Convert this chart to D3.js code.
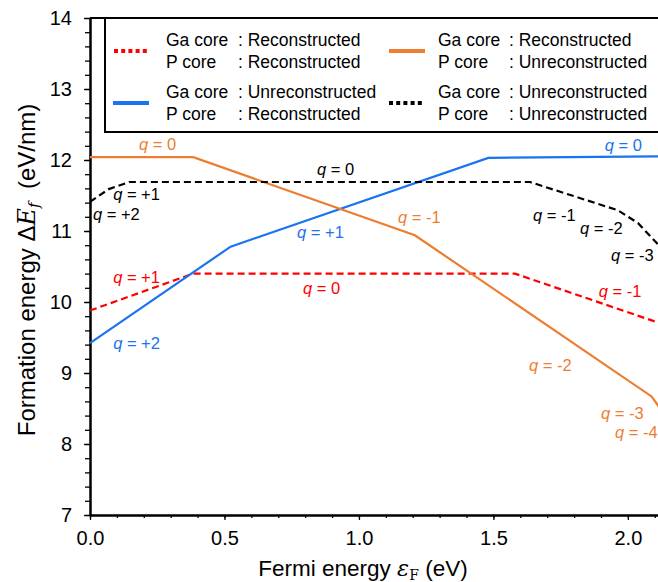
<!DOCTYPE html>
<html>
<head>
<meta charset="utf-8">
<script src="https://cdn.jsdelivr.net/npm/d3@7"></script>
<style>
  html, body { margin: 0; padding: 0; background: #fff; }
  svg { display: block; font-family: "Liberation Sans", Arial, sans-serif; }
</style>
</head>
<body>
<svg id="chart" width="658" height="582"></svg>
<script>
// Formation energy vs Fermi energy for the four core configurations
// each series: [Fermi energy (eV), formation energy (eV/nm)] at the transition points
const gaRecPRec     = [[0, 9.88], [0.384, 10.40], [1.580, 10.40], [2.12, 9.70]];
const gaUnrecPRec   = [[0, 9.42], [0.523, 10.78], [1.481, 12.03], [2.12, 12.05]];
const gaRecPUnrec   = [[0, 12.04], [0.384, 12.04], [1.208, 10.94], [2.088, 8.67], [2.12, 8.50]];
const gaUnrecPUnrec = [[0, 11.41], [0.07, 11.59], [0.146, 11.69], [1.636, 11.69], [1.964, 11.29], [2.038, 11.11], [2.12, 10.78]];

const seriesColors = ["#ff0000", "#1a73f0", "#ed7d31", "#000000"];
const seriesDashed = [true, false, false, true];

const legendRows = [
  ["Ga core", ": Reconstructed", "P core", ": Reconstructed"],
  ["Ga core", ": Unreconstructed", "P core", ": Reconstructed"],
  ["Ga core", ": Reconstructed", "P core", ": Unreconstructed"],
  ["Ga core", ": Unreconstructed", "P core", ": Unreconstructed"]
];

// charge-state labels: [series index, charge text, Fermi energy, formation energy]
const chargeLabels = [
  [2, "0", 0.182, 12.14],
  [3, "0", 0.844, 11.79],
  [3, "+1", 0.086, 11.44],
  [3, "+2", 0.011, 11.16],
  [1, "+1", 0.770, 10.90],
  [0, "+1", 0.086, 10.27],
  [0, "0", 0.792, 10.11],
  [1, "+2", 0.086, 9.34],
  [1, "0", 1.914, 12.13],
  [2, "-1", 1.145, 11.11],
  [3, "-1", 1.647, 11.14],
  [3, "-2", 1.822, 10.96],
  [3, "-3", 1.937, 10.58],
  [0, "-1", 1.892, 10.07],
  [2, "-2", 1.632, 9.03],
  [2, "-3", 1.900, 8.35],
  [2, "-4", 1.952, 8.08]
];

const xMajor = [0, 0.5, 1.0, 1.5, 2.0];
const xMinor = d3.range(0, 21.5, 1).map(v => v / 10);
const yMajor = [7, 8, 9, 10, 11, 12, 13, 14];
const yMinor = d3.range(35, 70.5, 1).map(v => v / 5);

const svg = d3.select("#chart");
const x = d3.scaleLinear().domain([0, 2.112]).range([90, 658]);
const y = d3.scaleLinear().domain([7, 14]).range([515, 18]);

// axes
const axisFont = "20px";
const gx = svg.append("g").attr("transform", `translate(0,${y(7)})`);
gx.call(d3.axisBottom(x).tickValues(xMinor).tickSize(3).tickSizeOuter(0).tickFormat(""));
const gx2 = svg.append("g").attr("transform", `translate(0,${y(7)})`);
gx2.call(d3.axisBottom(x).tickValues(xMajor).tickSize(5).tickSizeOuter(0).tickPadding(11).tickFormat(d3.format(".1f")));

const gy = svg.append("g").attr("transform", `translate(${x(0)},0)`);
gy.call(d3.axisLeft(y).tickValues(yMinor).tickSize(5).tickSizeOuter(0).tickFormat(""));
const gy2 = svg.append("g").attr("transform", `translate(${x(0)},0)`);
gy2.call(d3.axisLeft(y).tickValues(yMajor).tickSize(6).tickSizeOuter(0).tickPadding(12).tickFormat(d3.format("d")));

svg.selectAll(".domain").attr("stroke", "#000").attr("stroke-width", 2);
svg.selectAll(".tick line").attr("stroke", "#000").attr("stroke-width", 1.3);
svg.selectAll(".tick text").attr("font-size", axisFont).attr("fill", "#000")
  .attr("font-family", "Liberation Sans, Arial, sans-serif");

// top frame line
svg.append("line")
  .attr("x1", x(0)).attr("x2", 658).attr("y1", y(14)).attr("y2", y(14))
  .attr("stroke", "#000").attr("stroke-width", 2);

// series lines
const allSeries = [gaRecPRec, gaUnrecPRec, gaRecPUnrec, gaUnrecPUnrec];
const line = d3.line().x(d => x(d[0])).y(d => y(d[1]));
const drawOrder = [0, 1, 2, 3];
drawOrder.forEach(i => {
  svg.append("path")
    .attr("d", line(allSeries[i]))
    .attr("fill", "none")
    .attr("stroke", seriesColors[i])
    .attr("stroke-width", 2.2)
    .attr("stroke-dasharray", seriesDashed[i] ? "7,4" : null);
});

// charge labels
chargeLabels.forEach(([s, q, ex, ey]) => {
  const t = svg.append("text")
    .attr("x", x(ex)).attr("y", y(ey))
    .attr("font-size", "16.5px")
    .attr("fill", seriesColors[s]);
  t.append("tspan").attr("font-style", "italic").text("q");
  t.append("tspan").text(" = " + q);
});

// legend
svg.append("rect")
  .attr("x", 105).attr("y", y(14)).attr("width", 620).attr("height", 132 - y(14))
  .attr("fill", "#fff").attr("stroke", "#000").attr("stroke-width", 2);

const legendPos = [
  { sx: 114, tx: 166, cx: 238, yy: 51 },
  { sx: 113, tx: 166, cx: 238, yy: 103 },
  { sx: 389, tx: 438, cx: 509, yy: 51 },
  { sx: 389, tx: 438, cx: 509, yy: 103 }
];
const legendSeries = [0, 1, 2, 3];
legendSeries.forEach((s, k) => {
  const p = legendPos[k];
  svg.append("line")
    .attr("x1", p.sx).attr("x2", p.sx + 36).attr("y1", p.yy).attr("y2", p.yy)
    .attr("stroke", seriesColors[s])
    .attr("stroke-width", 4)
    .attr("stroke-dasharray", seriesDashed[s] ? "4,3.2" : null);
  const r = legendRows[s];
  const g = svg.append("g").attr("font-size", "17.5px").attr("fill", "#000");
  g.append("text").attr("x", p.tx).attr("y", p.yy - 5).text(r[0]);
  g.append("text").attr("x", p.cx).attr("y", p.yy - 5).text(r[1]);
  g.append("text").attr("x", p.tx).attr("y", p.yy + 17).text(r[2]);
  g.append("text").attr("x", p.cx).attr("y", p.yy + 17).text(r[3]);
});

// axis titles
const xt = svg.append("text")
  .attr("x", 363).attr("y", 576)
  .attr("text-anchor", "middle")
  .attr("font-size", "22.5px").attr("fill", "#000");
xt.append("tspan").text("Fermi energy ");
xt.append("tspan").attr("font-family", "DejaVu Serif, serif").attr("font-style", "italic").text("ε");
xt.append("tspan").attr("font-family", "DejaVu Serif, serif").attr("font-size", "14px").attr("dy", 4).text("F");
xt.append("tspan").attr("dy", -4).text(" (eV)");

const yt = svg.append("text")
  .attr("transform", "translate(35,270) rotate(-90)")
  .attr("text-anchor", "middle")
  .attr("font-size", "24px").attr("fill", "#000");
yt.append("tspan").text("Formation energy Δ");
yt.append("tspan").attr("font-family", "DejaVu Serif, serif").attr("font-style", "italic").text("E");
yt.append("tspan").attr("font-family", "DejaVu Serif, serif").attr("font-style", "italic").attr("font-size", "15px").attr("dy", 4).text("f");
yt.append("tspan").attr("dy", -4).text("\u00a0 (eV/nm)");
</script>
</body>
</html>
